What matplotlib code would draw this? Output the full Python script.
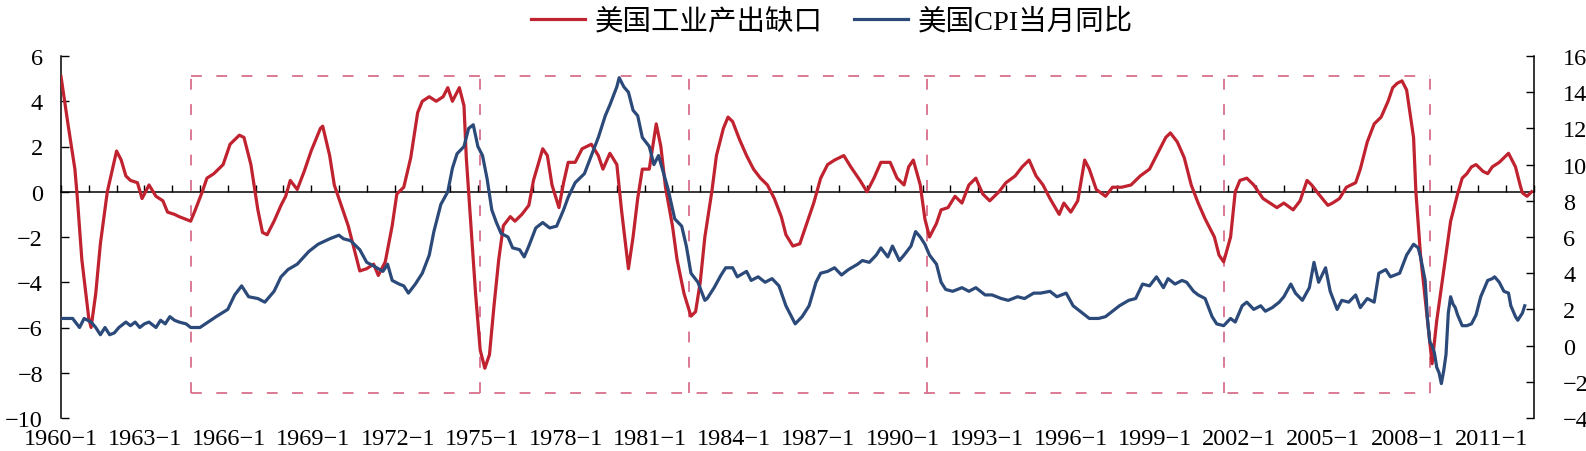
import matplotlib.pyplot as plt

plt.rcParams['font.family'] = ['Liberation Serif', 'Noto Sans CJK SC']
plt.rcParams['axes.unicode_minus'] = True

# 美国工业产出缺口 (left axis)
red_dates = ['1960-01', '1960-04', '1960-07', '1960-08', '1960-10', '1961-01', '1961-02', '1961-04',
             '1961-06', '1961-09', '1961-11', '1962-01', '1962-03', '1962-05', '1962-07', '1962-10',
             '1962-12', '1963-03', '1963-06', '1963-09', '1963-11', '1964-02', '1964-04', '1964-09',
             '1964-11', '1965-02', '1965-04', '1965-07', '1965-11', '1966-02', '1966-06', '1966-08',
             '1966-11', '1967-02', '1967-04', '1967-06', '1967-09', '1967-12', '1968-02', '1968-04',
             '1968-07', '1968-10', '1969-01', '1969-05', '1969-06', '1969-09', '1969-11', '1970-02',
             '1970-05', '1970-08', '1970-10', '1971-01', '1971-04', '1971-06', '1971-09', '1971-12',
             '1972-02', '1972-05', '1972-08', '1972-11', '1973-01', '1973-04', '1973-07', '1973-10',
             '1973-12', '1974-02', '1974-05', '1974-07', '1974-08', '1974-10', '1974-12', '1975-02',
             '1975-04', '1975-06', '1975-08', '1975-10', '1975-12', '1976-03', '1976-05', '1976-08',
             '1976-11', '1977-01', '1977-05', '1977-07', '1977-09', '1977-12', '1978-02', '1978-04',
             '1978-07', '1978-10', '1979-02', '1979-05', '1979-07', '1979-10', '1980-01', '1980-03',
             '1980-06', '1980-08', '1980-10', '1980-12', '1981-03', '1981-06', '1981-08', '1981-10',
             '1982-01', '1982-03', '1982-06', '1982-09', '1982-11', '1983-01', '1983-03', '1983-06',
             '1983-08', '1983-11', '1984-01', '1984-03', '1984-06', '1984-09', '1984-12', '1985-03',
             '1985-06', '1985-09', '1985-12', '1986-02', '1986-05', '1986-08', '1986-11', '1987-02',
             '1987-05', '1987-08', '1987-11', '1988-03', '1988-06', '1988-10', '1989-01', '1989-04',
             '1989-07', '1989-11', '1990-02', '1990-05', '1990-07', '1990-09', '1990-12', '1991-02',
             '1991-04', '1991-07', '1991-09', '1991-12', '1992-03', '1992-06', '1992-09', '1992-12',
             '1993-03', '1993-06', '1993-10', '1994-01', '1994-05', '1994-08', '1994-11', '1995-02',
             '1995-05', '1995-08', '1995-12', '1996-02', '1996-05', '1996-08', '1996-11', '1997-01',
             '1997-04', '1997-08', '1997-11', '1998-03', '1998-07', '1998-11', '1999-03', '1999-07',
             '1999-10', '1999-12', '2000-03', '2000-06', '2000-09', '2000-12', '2001-03', '2001-07',
             '2001-09', '2001-11', '2002-02', '2002-04', '2002-06', '2002-09', '2002-12', '2003-04',
             '2003-07', '2003-10', '2004-01', '2004-05', '2004-08', '2004-11', '2005-01', '2005-04',
             '2005-08', '2005-10', '2006-01', '2006-04', '2006-08', '2006-10', '2007-01', '2007-04',
             '2007-07', '2007-10', '2007-12', '2008-02', '2008-04', '2008-06', '2008-09', '2008-10',
             '2008-12', '2009-03', '2009-05', '2009-07', '2009-10', '2010-01', '2010-04', '2010-06',
             '2010-08', '2010-10', '2010-12', '2011-03', '2011-05', '2011-07', '2011-10', '2012-01',
             '2012-02', '2012-05', '2012-07', '2012-08', '2012-10', '2012-12']
red_vals = [5.1, 3.0, 1.0, -0.2, -3.0, -5.6, -6.0, -4.5,
            -2.3, 0.0, 0.9, 1.8, 1.4, 0.7, 0.5, 0.4,
            -0.3, 0.3, -0.2, -0.4, -0.9, -1.0, -1.1, -1.3,
            -0.8, 0.0, 0.6, 0.8, 1.2, 2.1, 2.5, 2.4,
            1.2, -0.8, -1.8, -1.9, -1.3, -0.6, -0.2, 0.5,
            0.1, 0.9, 1.8, 2.8, 2.9, 1.6, 0.3, -0.6,
            -1.5, -2.7, -3.5, -3.4, -3.2, -3.7, -3.1, -1.5,
            -0.1, 0.2, 1.5, 3.5, 4.0, 4.2, 4.0, 4.2,
            4.6, 4.0, 4.6, 3.8, 1.5, -1.5, -4.5, -7.0,
            -7.8, -7.2, -5.0, -3.0, -1.5, -1.1, -1.3, -1.0,
            -0.6, 0.5, 1.9, 1.6, 0.3, -0.7, 0.4, 1.3,
            1.3, 1.9, 2.1, 1.6, 1.0, 1.7, 1.2, -0.8,
            -3.4, -2.0, -0.3, 1.0, 1.0, 3.0, 2.0, 0.2,
            -1.5, -3.0, -4.5, -5.5, -5.3, -4.0, -2.0, 0.0,
            1.6, 2.8, 3.3, 3.1, 2.3, 1.6, 1.0, 0.6,
            0.3, -0.3, -1.1, -1.9, -2.4, -2.3, -1.4, -0.5,
            0.6, 1.2, 1.4, 1.6, 1.1, 0.5, 0.0, 0.6,
            1.3, 1.3, 0.6, 0.3, 1.1, 1.4, 0.3, -1.2,
            -2.0, -1.4, -0.8, -0.7, -0.2, -0.5, 0.3, 0.6,
            -0.1, -0.4, 0.0, 0.4, 0.7, 1.1, 1.4, 0.7,
            0.3, -0.3, -1.0, -0.5, -0.9, -0.4, 1.4, 1.0,
            0.1, -0.2, 0.2, 0.2, 0.3, 0.7, 1.0, 1.8,
            2.4, 2.6, 2.2, 1.5, 0.3, -0.5, -1.2, -2.0,
            -2.8, -3.1, -2.0, 0.0, 0.5, 0.6, 0.3, -0.3,
            -0.5, -0.7, -0.5, -0.8, -0.4, 0.5, 0.3, -0.1,
            -0.6, -0.5, -0.3, 0.2, 0.4, 1.0, 2.2, 3.0,
            3.3, 4.0, 4.6, 4.8, 4.9, 4.5, 2.4, 0.0,
            -2.8, -5.7, -7.6, -5.7, -3.5, -1.3, -0.1, 0.6,
            0.8, 1.1, 1.2, 0.9, 0.8, 1.1, 1.3, 1.6,
            1.7, 1.1, 0.3, -0.05, -0.2, 0.0]

# 美国CPI当月同比 (right axis)
blue_dates = ['1960-01', '1960-06', '1960-09', '1960-11', '1961-02', '1961-04', '1961-06', '1961-08',
              '1961-10', '1961-12', '1962-02', '1962-05', '1962-07', '1962-09', '1962-11', '1963-01',
              '1963-03', '1963-06', '1963-08', '1963-10', '1963-12', '1964-02', '1964-04', '1964-07',
              '1964-09', '1965-01', '1965-08', '1966-01', '1966-04', '1966-07', '1966-10', '1967-02',
              '1967-05', '1967-09', '1967-12', '1968-03', '1968-07', '1968-12', '1969-04', '1969-09',
              '1970-01', '1970-03', '1970-06', '1970-10', '1971-01', '1971-04', '1971-08', '1971-10',
              '1971-12', '1972-03', '1972-05', '1972-07', '1972-10', '1973-01', '1973-04', '1973-06',
              '1973-09', '1973-12', '1974-02', '1974-04', '1974-07', '1974-09', '1974-11', '1975-01',
              '1975-03', '1975-05', '1975-07', '1975-09', '1975-11', '1976-02', '1976-04', '1976-07',
              '1976-09', '1976-11', '1977-02', '1977-05', '1977-08', '1977-11', '1978-02', '1978-04',
              '1978-07', '1978-11', '1979-02', '1979-05', '1979-08', '1979-10', '1980-01', '1980-02',
              '1980-04', '1980-06', '1980-08', '1980-10', '1980-12', '1981-03', '1981-05', '1981-07',
              '1981-09', '1981-11', '1982-02', '1982-05', '1982-07', '1982-09', '1982-12', '1983-03',
              '1983-04', '1983-07', '1983-10', '1983-12', '1984-03', '1984-05', '1984-09', '1984-11',
              '1985-02', '1985-05', '1985-08', '1985-11', '1986-02', '1986-04', '1986-06', '1986-09',
              '1986-12', '1987-03', '1987-05', '1987-08', '1987-11', '1988-02', '1988-05', '1988-09',
              '1988-11', '1989-02', '1989-05', '1989-07', '1989-10', '1989-12', '1990-03', '1990-05',
              '1990-08', '1990-10', '1990-12', '1991-02', '1991-04', '1991-07', '1991-09', '1991-11',
              '1992-02', '1992-06', '1992-09', '1992-12', '1993-04', '1993-07', '1993-11', '1994-02',
              '1994-06', '1994-09', '1995-01', '1995-04', '1995-08', '1995-11', '1996-03', '1996-06',
              '1996-10', '1997-01', '1997-05', '1997-08', '1997-11', '1998-02', '1998-06', '1998-09',
              '1998-12', '1999-03', '1999-06', '1999-09', '1999-11', '2000-02', '2000-05', '2000-07',
              '2000-10', '2000-12', '2001-03', '2001-06', '2001-08', '2001-11', '2002-02', '2002-04',
              '2002-07', '2002-09', '2002-12', '2003-03', '2003-05', '2003-08', '2003-11', '2004-01',
              '2004-04', '2004-06', '2004-09', '2004-12', '2005-02', '2005-04', '2005-07', '2005-09',
              '2005-12', '2006-02', '2006-05', '2006-08', '2006-10', '2007-01', '2007-04', '2007-06',
              '2007-09', '2007-11', '2008-03', '2008-06', '2008-09', '2008-11', '2008-12', '2009-02',
              '2009-03', '2009-04', '2009-05', '2009-06', '2009-07', '2009-08', '2009-09', '2009-10',
              '2009-11', '2009-12', '2010-01', '2010-02', '2010-03', '2010-04', '2010-06', '2010-08',
              '2010-10', '2010-12', '2011-02', '2011-05', '2011-07', '2011-08', '2011-10', '2011-12',
              '2012-02', '2012-03', '2012-05', '2012-06', '2012-08', '2012-09']
blue_vals = [1.5, 1.5, 1.0, 1.5, 1.3, 1.0, 0.6, 1.0,
             0.6, 0.7, 1.0, 1.3, 1.1, 1.3, 1.0, 1.2,
             1.3, 1.0, 1.4, 1.2, 1.6, 1.4, 1.3, 1.2,
             1.0, 1.0, 1.6, 2.0, 2.8, 3.3, 2.7, 2.6,
             2.4, 3.0, 3.8, 4.2, 4.5, 5.2, 5.6, 5.9,
             6.1, 5.9, 5.8, 5.3, 4.6, 4.4, 4.1, 4.5,
             3.6, 3.4, 3.3, 2.9, 3.4, 4.0, 5.0, 6.3,
             7.8, 8.5, 9.8, 10.6, 11.0, 12.0, 12.2, 11.0,
             10.5, 9.2, 7.5, 6.8, 6.2, 6.0, 5.4, 5.3,
             4.9, 5.5, 6.5, 6.8, 6.5, 6.6, 7.5, 8.2,
             9.0, 9.5, 10.5, 11.5, 12.7, 13.3, 14.3, 14.8,
             14.3, 14.0, 13.0, 12.7, 11.5, 11.0, 10.0, 10.5,
             9.6, 8.7, 7.0, 6.6, 5.5, 4.0, 3.5, 2.5,
             2.6, 3.2, 3.9, 4.3, 4.3, 3.8, 4.1, 3.6,
             3.8, 3.5, 3.7, 3.3, 2.2, 1.7, 1.2, 1.6,
             2.2, 3.5, 4.0, 4.1, 4.3, 3.9, 4.2, 4.5,
             4.7, 4.6, 5.0, 5.4, 4.9, 5.5, 4.7, 5.0,
             5.5, 6.3, 6.0, 5.6, 5.0, 4.5, 3.5, 3.1,
             3.0, 3.2, 3.0, 3.2, 2.8, 2.8, 2.6, 2.5,
             2.7, 2.6, 2.9, 2.9, 3.0, 2.7, 2.9, 2.2,
             1.8, 1.5, 1.5, 1.6, 1.9, 2.2, 2.5, 2.6,
             3.4, 3.3, 3.8, 3.2, 3.7, 3.4, 3.6, 3.5,
             3.0, 2.8, 2.6, 1.6, 1.2, 1.1, 1.5, 1.3,
             2.2, 2.4, 2.0, 2.2, 1.9, 2.1, 2.4, 2.7,
             3.4, 2.9, 2.5, 3.2, 4.6, 3.5, 4.3, 3.0,
             2.0, 2.5, 2.4, 2.8, 2.1, 2.6, 2.4, 4.0,
             4.2, 3.8, 4.0, 5.0, 5.6, 5.4, 4.9, 3.6,
             1.5, 0.2, 0.0, -0.4, -1.2, -1.5, -2.1, -1.4,
             -0.5, 1.8, 2.7, 2.3, 2.1, 1.7, 1.1, 1.1,
             1.2, 1.7, 2.7, 3.6, 3.7, 3.8, 3.5, 3.0,
             2.9, 2.2, 1.6, 1.4, 1.8, 2.2]

label_years = list(range(1960, 2012, 3))

# dashed boxes: vertical edges (dates) and top / bottom levels on the left axis
box_edges = ['1964-09', '1975-02', '1982-08', '1991-03', '2001-11', '2009-04']
box_top, box_bottom = 5.1, -8.9

red = '#C0222F'
blue = '#2B4A7A'
pink = '#D9708C'


def month_index(s):
    y, m = s.split('-')
    return (int(y) - 1960) * 12 + int(m) - 1


red_x = [month_index(d) for d in red_dates]
blue_x = [month_index(d) for d in blue_dates]
edge_x = [month_index(d) for d in box_edges]

fig = plt.figure(figsize=(15.86, 4.52), dpi=100)
ax = fig.add_axes([61 / 1586, 33 / 452, 1473 / 1586, 362 / 452])
ax.set_xlim(0, 636)
ax.set_ylim(-10, 6)
ax.set_yticks(range(-10, 7, 2))

# dashed boxes
ax.plot([edge_x[0], edge_x[-1]], [box_top, box_top], color=pink, lw=1.3, dashes=(6, 8), zorder=1)
ax.plot([edge_x[0], edge_x[-1]], [box_bottom, box_bottom], color=pink, lw=1.3, dashes=(6, 8), zorder=1)
for ex in edge_x:
    ax.plot([ex, ex], [box_bottom, box_top], color=pink, lw=1.3, dashes=(6, 8), zorder=1)

l1, = ax.plot(red_x, red_vals, color=red, lw=2.3, zorder=3)

ax.spines['top'].set_visible(False)
ax.spines['right'].set_visible(False)
ax.spines['bottom'].set_position(('data', 0))
ax.spines['bottom'].set_linewidth(1.1)
ax.spines['left'].set_linewidth(1.1)
ax.set_xticks(range(0, 637, 12))
ax.tick_params(axis='x', direction='in', length=5, width=1, labelbottom=False)
ax.tick_params(axis='y', direction='in', length=6, width=1, labelsize=17.5, pad=13)

ax2 = ax.twinx()
ax2.set_ylim(-4, 16)
ax2.set_yticks(range(-4, 17, 2))
l2, = ax2.plot(blue_x, blue_vals, color=blue, lw=2.3, zorder=3)
for s in ['top', 'bottom', 'left']:
    ax2.spines[s].set_visible(False)
ax2.spines['right'].set_linewidth(1.1)
ax2.tick_params(axis='y', direction='in', length=6, width=1, labelsize=17.5, pad=21)

# date labels along the bottom, spread a little wider than the month grid
axl = ax.twiny()
axl.set_xlim(8.9, 630.1)
axl.xaxis.tick_bottom()
axl.set_xticks([(y - 1960) * 12 for y in label_years])
axl.set_xticklabels([f'{y}\u22121' for y in label_years])
axl.tick_params(axis='x', length=0, labelsize=17.5, pad=7)
for s in axl.spines.values():
    s.set_visible(False)

fig.legend([l1, l2], ['美国工业产出缺口', '美国CPI当月同比'], loc='upper center',
           bbox_to_anchor=(0.5246, 1.012), ncol=2, frameon=False, fontsize=20.5,
           handlelength=1.9, handletextpad=0.35, columnspacing=1.1, borderpad=0)

fig.savefig('out.png', dpi=100)
